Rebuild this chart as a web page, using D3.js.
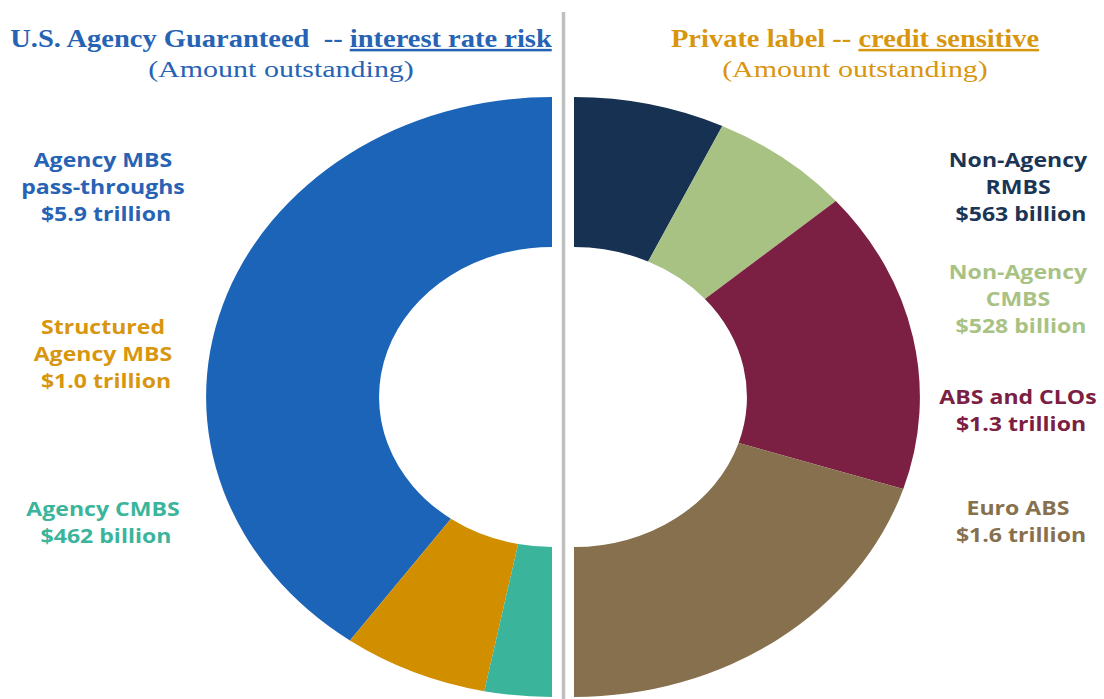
<!DOCTYPE html>
<html>
<head>
<meta charset="utf-8">
<script src="https://cdn.jsdelivr.net/npm/d3@7"></script>
<style>
  body { margin: 0; background: #fff; }
  svg { display: block; }
  .title { font-family: "Liberation Serif", serif; font-size: 25px; font-weight: bold; }
  .subtitle { font-family: "Liberation Serif", serif; font-size: 24px; }
  .lbl { font-family: "Open Sans", sans-serif; font-weight: bold; font-size: 20px; }
</style>
</head>
<body>
<svg id="chart" width="1104" height="699"></svg>
<script>
////////////////////////////////////////////////////////////
// DATA
////////////////////////////////////////////////////////////
var agencyNames = ["Agency MBS pass-throughs", "Structured Agency MBS", "Agency CMBS"];
var agencyValues = [5900, 1000, 462];   // $ billion
var agencyColors = ["#1c64b8", "#d18f00", "#3ab59c"];
var agencyLabels = [
  ["Agency MBS", "pass-throughs", " $5.9 trillion"],
  ["Structured", "Agency MBS", " $1.0 trillion"],
  ["Agency CMBS", " $462 billion"]
];

var privateNames = ["Non-Agency RMBS", "Non-Agency CMBS", "ABS and CLOs", "Euro ABS"];
var privateValues = [563, 528, 1300, 1600];   // $ billion
var privateColors = ["#163152", "#a8c283", "#7b2042", "#86704d"];
var privateLabels = [
  ["Non-Agency", "RMBS", " $563 billion"],
  ["Non-Agency", "CMBS", " $528 billion"],
  ["ABS and CLOs", " $1.3 trillion"],
  ["Euro ABS", " $1.6 trillion"]
];

var blueText = "#2763b4";
var orangeText = "#d8960f";

////////////////////////////////////////////////////////////
// LAYOUT
////////////////////////////////////////////////////////////
var svg = d3.select("#chart");
var sx = 1.153;          // the picture is stretched sideways
var outerR = 300, innerR = 150;
var cy = 397;

// divider
svg.append("line")
    .attr("x1", 563.5).attr("x2", 563.5)
    .attr("y1", 12).attr("y2", 699)
    .attr("stroke", "#c0c0c0")
    .attr("stroke-width", 3.5);

var arc = d3.arc().innerRadius(innerR).outerRadius(outerR);

function draw_half(values, colors, cx, start, end) {
    var pie = d3.pie().sort(null).startAngle(start).endAngle(end);
    var g = svg.append("g")
        .attr("transform", "translate(" + cx + "," + cy + ") scale(" + sx + ",1)");
    g.selectAll("path")
        .data(pie(values))
        .enter().append("path")
        .attr("fill", function(d, i) { return colors[i]; })
        .attr("d", arc);
}

draw_half(agencyValues, agencyColors, 552, 0, -Math.PI);
draw_half(privateValues, privateColors, 574, 0, Math.PI);

// stretched, centred text block
function add_text(lines, cx, y0, color, cls, lh) {
    var t = svg.append("text")
        .attr("class", cls)
        .attr("text-anchor", "middle")
        .attr("fill", color)
        .attr("transform", "translate(" + cx + "," + y0 + ") scale(" + sx + ",1)")
        .style("white-space", "pre");
    lines.forEach(function(s, i) {
        t.append("tspan").attr("x", 0).attr("y", i * lh).text(s);
    });
    return t;
}

// titles
function add_title(main, under, cx, color) {
    var t = svg.append("text")
        .attr("class", "title")
        .attr("text-anchor", "middle")
        .attr("fill", color)
        .attr("transform", "translate(" + cx + ",47) scale(1.14,1)")
        .style("white-space", "pre");
    t.append("tspan").text(main);
    t.append("tspan").style("text-decoration", "underline").text(under);
    svg.append("text")
        .attr("class", "subtitle")
        .attr("text-anchor", "middle")
        .attr("fill", color)
        .attr("transform", "translate(" + cx + ",77) scale(1.25,1)")
        .text("(Amount outstanding)");
}

add_title("U.S. Agency Guaranteed  -- ", "interest rate risk", 281, blueText);
add_title("Private label -- ", "credit sensitive", 855, orangeText);

// slice labels
var agencyY = [167, 334, 516];
var agencyTextColors = ["#2763b4", "#d8960f", "#3ab59c"];
agencyLabels.forEach(function(lines, i) {
    add_text(lines, 103, agencyY[i], agencyTextColors[i], "lbl", 26.8);
});

var privateY = [167, 279, 404, 515];
var privateTextColors = ["#1b3556", "#a8c283", "#7b2042", "#86704d"];
privateLabels.forEach(function(lines, i) {
    add_text(lines, 1018, privateY[i], privateTextColors[i], "lbl", 26.8);
});
</script>
</body>
</html>
